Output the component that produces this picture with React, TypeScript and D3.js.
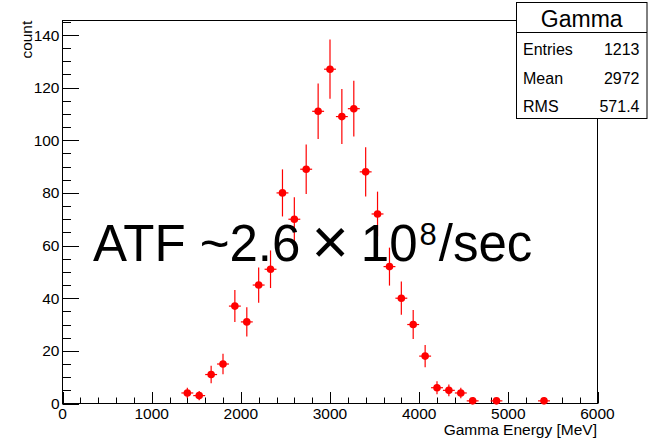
import React from 'react';
import * as d3 from 'd3';

// Histogram "Gamma": 45 bins from 0 to 6000 MeV, non-empty bins only
const energies = [1400, 1533, 1667, 1800, 1933, 2067, 2200, 2333, 2467, 2600, 2733, 2867, 3000, 3133, 3267, 3400, 3533, 3667, 3800, 3933, 4067, 4200, 4333, 4467, 4600, 4867, 5400];
const counts = [4, 3, 11, 15, 37, 31, 45, 51, 80, 70, 89, 111, 127, 109, 112, 88, 72, 52, 40, 30, 18, 6, 5, 4, 1, 1, 1];
const binWidth = 6000 / 45;

const xTicks = [0, 1000, 2000, 3000, 4000, 5000, 6000];
const yTicks = [0, 20, 40, 60, 80, 100, 120, 140];
const statsLabels = ['Entries', 'Mean', 'RMS'];
const statsValues = ['1213', '2972', '571.4'];

const W = 650;
const H = 442;
const FONT = '"Liberation Sans", Arial, Helvetica, sans-serif';

export default function App() {
  const x = d3.scaleLinear().domain([0, 6000]).range([62.5, 597.5]);
  const y = d3.scaleLinear().domain([0, 145.5]).range([403.5, 20.5]);
  const [x0, x1] = x.range();
  const [yb, yt] = y.range();

  const xMinor = d3.range(0, 6001, 200).filter((v) => v % 1000 !== 0);
  const yMinor = d3.range(0, 145.5, 5).filter((v) => v % 20 !== 0);

  return (
    <div style={{ position: 'fixed', left: 0, top: 0 }}>
      <svg width={W} height={H} style={{ display: 'block', background: '#fff' }} fontFamily={FONT}>
        <rect x={0} y={0} width={W} height={H} fill="#fff" />
        {/* frame */}
        <rect x={x0} y={yt} width={x1 - x0} height={yb - yt} fill="none" stroke="#000" strokeWidth={1} />
        {/* x ticks */}
        {xTicks.map((t) => (
          <line key={'xt' + t} x1={Math.round(x(t)) + 0.5} x2={Math.round(x(t)) + 0.5} y1={yb} y2={yb - 11.5} stroke="#000" />
        ))}
        {xMinor.map((t) => (
          <line key={'xm' + t} x1={Math.round(x(t)) + 0.5} x2={Math.round(x(t)) + 0.5} y1={yb} y2={yb - 6} stroke="#000" />
        ))}
        {xTicks.map((t) => (
          <text key={'xl' + t} x={x(t)} y={419} fontSize={15.5} textAnchor="middle" fill="#000">{t}</text>
        ))}
        {/* y ticks */}
        {yTicks.map((t) => (
          <line key={'yt' + t} x1={x0} x2={x0 + 16.5} y1={Math.round(y(t)) + 0.5} y2={Math.round(y(t)) + 0.5} stroke="#000" />
        ))}
        {yMinor.map((t) => (
          <line key={'ym' + t} x1={x0} x2={x0 + 8.5} y1={Math.round(y(t)) + 0.5} y2={Math.round(y(t)) + 0.5} stroke="#000" />
        ))}
        {yTicks.map((t) => (
          <text key={'yl' + t} x={59.5} y={y(t)} dy="0.36em" fontSize={15.5} textAnchor="end" fill="#000">{t}</text>
        ))}
        {/* axis titles */}
        <text x={597} y={435} fontSize={15.5} textAnchor="end" fill="#000">Gamma Energy [MeV]</text>
        <text transform="translate(32.3,20.7) rotate(-90)" fontSize={15.5} textAnchor="end" fill="#000">count</text>
        {/* data */}
        {energies.map((e, i) => {
          const c = counts[i];
          const err = Math.sqrt(c);
          return (
            <g key={'p' + i}>
              <line x1={x(e)} x2={x(e)} y1={y(c - err)} y2={y(c + err)} stroke="#ff0000" strokeWidth={1.2} />
              <line x1={x(e - binWidth / 2)} x2={x(e + binWidth / 2)} y1={y(c)} y2={y(c)} stroke="#ff0000" strokeWidth={1.2} />
              <circle cx={x(e)} cy={y(c)} r={3.8} fill="#ff0000" />
            </g>
          );
        })}
        {/* annotation */}
        <text x={93} y={261} fontSize={51} fill="#000">
          ATF ~2.6
          <tspan dx={11} dy={3} fontSize={64}>×</tspan>
          <tspan dx={12} dy={-3} fontSize={51}>10</tspan>
          <tspan dx={2} fontSize={31} dy={-16}>8</tspan>
          <tspan dx={2} fontSize={51} dy={16}>/sec</tspan>
        </text>
        {/* stats box */}
        <rect x={516.5} y={2.5} width={130.5} height={116} fill="#fff" stroke="#000" strokeWidth={1} />
        <line x1={516.5} x2={647} y1={32.5} y2={32.5} stroke="#000" />
        <text x={581.75} y={27} fontSize={23} textAnchor="middle" fill="#000">Gamma</text>
        {statsLabels.map((l, i) => (
          <g key={'s' + i}>
            <text x={523} y={55 + i * 28.7} fontSize={16} fill="#000">{l}</text>
            <text x={639.5} y={55 + i * 28.7} fontSize={16} textAnchor="end" fill="#000">{statsValues[i]}</text>
          </g>
        ))}
      </svg>
    </div>
  );
}
